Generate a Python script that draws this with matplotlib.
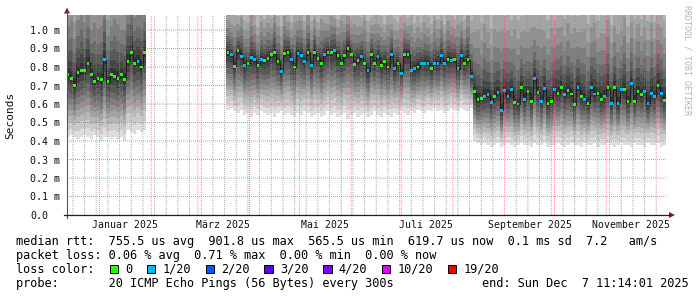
import datetime as dt
import numpy as np
import matplotlib
matplotlib.use("Agg")
import matplotlib.pyplot as plt
import matplotlib.dates as mdates
from matplotlib.lines import Line2D
from matplotlib.patches import Polygon, Rectangle
from matplotlib.transforms import blended_transform_factory

# ---------------- data ----------------
START = dt.datetime(2024, 12, 12, 11, 14, 1)
END = dt.datetime(2025, 12, 7, 11, 14, 1)
STEP_DAYS = 2.0

seg1_first_day = 0.5
seg1_median = [0.76, 0.74, 0.70, 0.77, 0.78, 0.78, 0.82, 0.76, 0.72, 0.74, 0.73, 0.84,
               0.72, 0.76, 0.75, 0.74, 0.76, 0.73, 0.83, 0.88, 0.82, 0.83, 0.80, 0.88]
seg1_loss = [0, 0, 0, 0, 0, 0, 0, 0, 0, 0, 0, 1, 0, 0, 0, 0, 0, 0, 0, 0, 0, 1, 0, 0]
seg1_low = [0.42, 0.43, 0.42, 0.41, 0.42, 0.43, 0.42, 0.41, 0.43, 0.42, 0.40, 0.42,
            0.42, 0.41, 0.42, 0.41, 0.42, 0.40, 0.46, 0.45, 0.44, 0.46, 0.45, 0.46]
seg1_high = [1.9, 2.1, 1.8, 2.0, 2.2, 1.9, 2.0, 1.8, 2.1, 1.9, 2.0, 2.2,
             1.8, 1.9, 2.1, 2.0, 1.8, 1.9, 2.1, 2.2, 1.9, 2.0, 2.1, 1.9]

seg2_first_day = 96.5
seg2_median = [0.877, 0.865, 0.805, 0.89, 0.856, 0.81, 0.82, 0.85, 0.84, 0.81,
               0.84, 0.835, 0.846, 0.865, 0.877, 0.83, 0.775, 0.874, 0.88, 0.84,
               0.80, 0.874, 0.86, 0.83, 0.88, 0.81, 0.88, 0.846, 0.82, 0.865,
               0.88, 0.877, 0.888, 0.86, 0.82, 0.86, 0.902, 0.87, 0.815, 0.835,
               0.856, 0.82, 0.78, 0.87, 0.82, 0.856, 0.81, 0.83, 0.80, 0.87,
               0.79, 0.82, 0.766, 0.865, 0.87, 0.78, 0.79, 0.80, 0.82, 0.82,
               0.82, 0.79, 0.82, 0.82, 0.86, 0.82, 0.84, 0.835, 0.84, 0.79,
               0.86, 0.82, 0.84, 0.75]
seg2_loss = [0, 1, 0, 0, 1, 1, 0, 1, 1, 0,
             1, 0, 0, 0, 0, 0, 1, 0, 0, 1,
             0, 1, 1, 1, 0, 1, 0, 0, 0, 1,
             0, 0, 1, 0, 0, 0, 0, 0, 0, 0,
             1, 0, 1, 0, 0, 1, 0, 0, 0, 1,
             1, 0, 1, 0, 0, 1, 1, 0, 1, 1,
             1, 0, 1, 1, 1, 1, 0, 1, 0, 1,
             1, 0, 0, 1]
seg2_low = [0.57, 0.58, 0.56, 0.55, 0.57, 0.54, 0.55, 0.53, 0.55, 0.54,
            0.56, 0.55, 0.54, 0.55, 0.53, 0.55, 0.56, 0.54, 0.55, 0.54,
            0.53, 0.55, 0.54, 0.56, 0.55, 0.53, 0.54, 0.55, 0.53, 0.54,
            0.56, 0.54, 0.55, 0.53, 0.54, 0.55, 0.52, 0.54, 0.55, 0.53,
            0.54, 0.55, 0.53, 0.54, 0.56, 0.54, 0.53, 0.55, 0.54, 0.53,
            0.55, 0.54, 0.56, 0.55, 0.54, 0.56, 0.55, 0.57, 0.56, 0.55,
            0.57, 0.56, 0.58, 0.56, 0.57, 0.55, 0.56, 0.58, 0.57, 0.56,
            0.58, 0.57, 0.56, 0.58]
seg2_high = [1.45, 1.40, 1.50, 1.35, 1.55, 1.42, 1.38, 1.60, 1.45, 1.33,
             1.50, 1.40, 1.47, 1.36, 1.58, 1.44, 1.39, 1.52, 1.41, 1.35,
             1.56, 1.43, 1.48, 1.37, 1.53, 1.40, 1.46, 1.34, 1.59, 1.42,
             1.38, 1.51, 1.44, 1.36, 1.55, 1.41, 1.47, 1.35, 1.52, 1.43,
             1.39, 1.57, 1.45, 1.37, 1.50, 1.42, 1.48, 1.34, 1.54, 1.40,
             1.46, 1.38, 1.53, 1.43, 1.36, 1.58, 1.41, 1.49, 1.37, 1.52,
             1.44, 1.39, 1.56, 1.42, 1.47, 1.35, 1.51, 1.43, 1.38, 1.55,
             1.45, 1.40, 1.60, 1.50]

seg3_first_day = 244.5
seg3_median = [0.667, 0.622, 0.63, 0.643, 0.65, 0.61, 0.643, 0.66, 0.566, 0.674,
               0.643, 0.676, 0.607, 0.60, 0.69, 0.622, 0.667, 0.613, 0.738, 0.663,
               0.613, 0.685, 0.604, 0.613, 0.68, 0.658, 0.69, 0.65, 0.674, 0.654,
               0.595, 0.69, 0.64, 0.625, 0.604, 0.688, 0.654, 0.658, 0.625, 0.643,
               0.688, 0.604, 0.69, 0.604, 0.676, 0.676, 0.613, 0.71, 0.613, 0.667,
               0.65, 0.667, 0.604, 0.658, 0.64, 0.70, 0.658, 0.62]
seg3_loss = [0, 0, 0, 1, 1, 1, 0, 1, 1, 1,
             1, 1, 0, 0, 0, 1, 0, 0, 1, 0,
             1, 1, 0, 0, 1, 0, 0, 1, 0, 0,
             0, 1, 0, 1, 0, 1, 1, 0, 0, 1,
             0, 1, 0, 1, 1, 0, 0, 1, 0, 0,
             0, 1, 1, 1, 1, 0, 1, 0]
seg3_low = [0.40, 0.39, 0.38, 0.39, 0.38, 0.37, 0.38, 0.39, 0.37, 0.38,
            0.39, 0.38, 0.37, 0.38, 0.39, 0.38, 0.38, 0.37, 0.39, 0.38,
            0.38, 0.39, 0.37, 0.38, 0.38, 0.39, 0.38, 0.37, 0.38, 0.39,
            0.38, 0.38, 0.37, 0.39, 0.38, 0.38, 0.39, 0.37, 0.38, 0.38,
            0.39, 0.38, 0.37, 0.38, 0.39, 0.38, 0.38, 0.37, 0.39, 0.38,
            0.38, 0.37, 0.39, 0.38, 0.38, 0.39, 0.37, 0.38]
seg3_high = [1.70, 1.85, 1.65, 1.90, 1.75, 1.60, 1.80, 1.72, 1.95, 1.68,
             1.78, 1.62, 1.88, 1.74, 1.66, 1.82, 1.70, 1.92, 1.64, 1.76,
             1.86, 1.69, 1.73, 1.90, 1.62, 1.80, 1.75, 1.67, 1.84, 1.71,
             1.93, 1.65, 1.77, 1.83, 1.68, 1.74, 1.89, 1.63, 1.79, 1.72,
             1.87, 1.66, 1.76, 1.81, 1.70, 1.94, 1.64, 1.78, 1.73, 1.85,
             1.67, 1.80, 1.71, 1.88, 1.65, 1.77, 1.82, 1.70]

y_ticks = [0.0, 0.1, 0.2, 0.3, 0.4, 0.5, 0.6, 0.7, 0.8, 0.9, 1.0]
y_tick_labels = ["0.0", "0.1 m", "0.2 m", "0.3 m", "0.4 m", "0.5 m",
                 "0.6 m", "0.7 m", "0.8 m", "0.9 m", "1.0 m"]
month_label_dates = [dt.datetime(2025, 1, 16), dt.datetime(2025, 3, 16), dt.datetime(2025, 5, 16),
                     dt.datetime(2025, 7, 16), dt.datetime(2025, 9, 16), dt.datetime(2025, 11, 16)]
month_labels = ["Januar 2025", "März 2025", "Mai 2025", "Juli 2025", "September 2025", "November 2025"]

loss_labels = ["0", "1/20", "2/20", "3/20", "4/20", "10/20", "19/20"]
loss_colors = ["#26ff00", "#00b8ff", "#0059ff", "#5e00ff", "#7e00ff", "#dd00ff", "#ff0000"]

legend_line1 = "median rtt:  755.5 us avg  901.8 us max  565.5 us min  619.7 us now  0.1 ms sd  7.2   am/s"
legend_line2 = "packet loss: 0.06 % avg  0.71 % max  0.00 % min  0.00 % now"
legend_line4 = "probe:       20 ICMP Echo Pings (56 Bytes) every 300s"
legend_end = "end: Sun Dec  7 11:14:01 2025"

# smoke shape (fraction of distance from median to extreme for each ping pair)
lower_frac = [1.0, 0.88, 0.76, 0.66, 0.56, 0.47, 0.37, 0.27, 0.16, 0.06]
upper_frac = [1.0, 0.75, 0.55, 0.40, 0.31, 0.23, 0.16, 0.11, 0.065, 0.03]

# ---------------- layout ----------------
W, H = 697, 297
MONO = "DejaVu Sans Mono"


def fx(px):
    return px / W


def fy(py):
    return 1 - py / H


fig = plt.figure(figsize=(W / 100, H / 100), dpi=100)
fig.patch.set_facecolor("white")
ax = fig.add_axes([fx(67), fy(215), 600 / W, 200 / H])
ax.set_facecolor("white")

t0 = mdates.date2num(START)
ax.set_xlim(t0, mdates.date2num(END))
ax.set_ylim(0, 200 / 185)

segments = [
    (seg1_first_day, seg1_median, seg1_loss, seg1_low, seg1_high),
    (seg2_first_day, seg2_median, seg2_loss, seg2_low, seg2_high),
    (seg3_first_day, seg3_median, seg3_loss, seg3_low, seg3_high),
]

grays = [(int(190 / 10 * (10 - k)) + 50) / 255 for k in range(1, 11)]
box_half = 0.008

for first_day, med, loss, lo, hi in segments:
    med = np.array(med)
    lo = np.array(lo)
    hi = np.array(hi)
    x = t0 + first_day + STEP_DAYS * np.arange(len(med))
    for k in range(10):
        lower = med - lower_frac[k] * (med - lo)
        upper = med + upper_frac[k] * (hi - med)
        g = grays[k]
        ax.bar(x, upper - lower, bottom=lower, width=STEP_DAYS, color=(g, g, g),
               linewidth=0, antialiased=False, zorder=1)
    ax.step(x, med, where="mid", color="#1a1a1a", lw=0.6, zorder=3)
    cols = [loss_colors[i] for i in loss]
    ax.bar(x, 2 * box_half, bottom=med - box_half, width=STEP_DAYS * 0.8, color=cols,
           linewidth=0, antialiased=False, zorder=4)

# grid
ax.xaxis.set_major_locator(mdates.MonthLocator())
ax.xaxis.set_minor_locator(mdates.WeekdayLocator(byweekday=mdates.MO))
ax.xaxis.set_major_formatter(matplotlib.ticker.NullFormatter())
ax.xaxis.set_minor_formatter(matplotlib.ticker.NullFormatter())
ax.set_axisbelow(False)
ax.set_yticks(y_ticks)
ax.set_yticklabels(y_tick_labels, fontfamily=MONO, fontsize=7.2, color="#111111")
ax.tick_params(axis="both", which="both", length=0)
ax.tick_params(axis="y", pad=37 * 0.72)
for lab in ax.get_yticklabels():
    lab.set_horizontalalignment("left")
for s in ax.spines.values():
    s.set_visible(False)

minor_rgb, minor_alpha = (0.56, 0.56, 0.56), 0.75
major_rgb, major_alpha = (0.87, 0.31, 0.31), 0.60
dots = (0, (1, 1))
for t in ax.xaxis.get_minorticklocs():
    ax.axvline(t, color=minor_rgb, alpha=minor_alpha, lw=0.72, linestyle=dots,
               antialiased=True, snap=False, zorder=2.5)
for t in ax.xaxis.get_majorticklocs():
    ax.axvline(t, color=major_rgb, alpha=major_alpha, lw=0.72, linestyle=dots,
               antialiased=True, snap=False, zorder=2.6)
for v in y_ticks[1:]:
    ax.axhline(v, color=major_rgb, alpha=major_alpha, lw=0.72, linestyle=dots,
               antialiased=True, snap=False, zorder=2.6)

# month labels
tr = blended_transform_factory(ax.transData, fig.transFigure)
for d, lab in zip(month_label_dates, month_labels):
    ax.text(mdates.date2num(d), fy(228.5), lab, transform=tr, ha="center", va="baseline",
            fontfamily=MONO, fontsize=7.1, color="#111111", clip_on=False)

# axis lines + arrows
fig.add_artist(Line2D([fx(67), fx(67)], [fy(218), fy(11)], color="#555555", lw=0.8))
fig.add_artist(Line2D([fx(64), fx(670)], [fy(215), fy(215)], color="#1f1f1f", lw=0.9))
arrow_col = (0.5, 0.12, 0.12)
fig.add_artist(Polygon([[fx(64), fy(13.5)], [fx(70), fy(13.5)], [fx(67), fy(7.5)]],
                       closed=True, color=arrow_col, lw=0))
fig.add_artist(Polygon([[fx(669), fy(212)], [fx(669), fy(218)], [fx(675), fy(215)]],
                       closed=True, color=arrow_col, lw=0))

# y label
fig.text(fx(10), fy(115), "Seconds", rotation=90, ha="center", va="center",
         fontfamily=MONO, fontsize=8, color="#111111")

# watermark
fig.text(fx(687), fy(5), "RRDTOOL / TOBI OETIKER", rotation=270, ha="center", va="top",
         fontfamily=MONO, fontsize=6, color="#b4b4b4")

# legend
LEG_FS = 8.6
CW = 7.2
fig.text(fx(16), fy(245), legend_line1, ha="left", va="baseline", fontfamily=MONO, fontsize=LEG_FS)
fig.text(fx(16), fy(259), legend_line2, ha="left", va="baseline", fontfamily=MONO, fontsize=LEG_FS)
fig.text(fx(16), fy(273), "loss color:", ha="left", va="baseline", fontfamily=MONO, fontsize=LEG_FS)
bx = 109.5
for lab, col in zip(loss_labels, loss_colors):
    fig.add_artist(Rectangle((fx(bx), fy(273)), 8.5 / W, 8.5 / H, facecolor=col,
                             edgecolor="black", lw=0.7, transform=fig.transFigure))
    tx = bx + 15.5
    fig.text(fx(tx), fy(273), lab, ha="left", va="baseline", fontfamily=MONO, fontsize=LEG_FS)
    bx = tx + len(lab) * CW + 14.5
fig.text(fx(16), fy(287), legend_line4, ha="left", va="baseline", fontfamily=MONO, fontsize=LEG_FS)
fig.text(fx(689), fy(287), legend_end, ha="right", va="baseline", fontfamily=MONO, fontsize=LEG_FS)

fig.savefig("out.png", dpi=100, facecolor="white")
